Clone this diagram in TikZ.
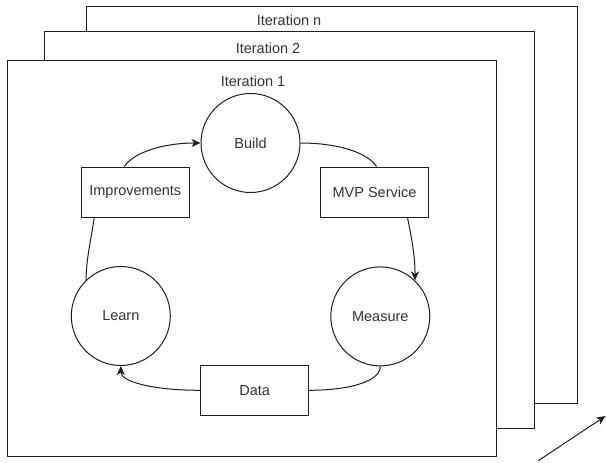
\documentclass[tikz,border=0pt]{standalone}
\usepackage{fontspec}
\setmainfont{Liberation Sans}
\usetikzlibrary{arrows.meta,calc}
\definecolor{ink}{RGB}{30,30,30}
\definecolor{txt}{RGB}{51,51,51}

\begin{document}
\begin{tikzpicture}[x=1pt,y=-1pt,
  every node/.style={font=\fontsize{14.5}{17}\selectfont, text=txt},
  frame/.style={draw=ink, fill=white, line width=1pt, rectangle, inner sep=0pt},
  phase/.style={draw=ink, fill=white, line width=1pt, circle, minimum size=99pt, inner sep=0pt},
  artifact/.style={draw=ink, fill=white, line width=1pt, rectangle, minimum width=108pt, minimum height=50pt, inner sep=0pt},
  flow/.style={draw=ink, line width=1pt},
  flowarrow/.style={flow, -{Stealth[length=9pt,width=8pt,inset=2.5pt]}}
]
\useasboundingbox (0,0) rectangle (606,463);

% stacked iteration frames, back to front
\node[frame, minimum width=491pt, minimum height=397pt] (itn) at (331.5,204.5) {};
\node (itnlabel) at (289,20) {Iteration n};
\node[frame, minimum width=490pt, minimum height=397pt] (ittwo) at (289,229.7) {};
\node (ittwolabel) at (268,48) {Iteration 2};
\node[frame, minimum width=489pt, minimum height=396pt] (itone) at (252,258) {};
\node (itonelabel) at (253,81) {Iteration 1};

% build-measure-learn cycle
\node[phase] (build) at (250.5,143) {Build};
\node[phase] (measure) at (380.3,316.4) {Measure};
\node[phase] (learn) at (120.8,316) {Learn};

\node[artifact] (impr) at (135.3,192) {Improvements};
\node[artifact] (mvp) at (374.5,192) {MVP Service};
\node[artifact] (data) at (254.7,390.3) {Data};

% connectors
\draw[flowarrow] ($(impr.north)+(-11,0)$) .. controls +(10,-15) and +(-35,0) .. (build.west);
\draw[flow] (build.east) .. controls +(35,0) and +(-10,-15) .. ($(mvp.north)+(2,0)$);
\draw[flowarrow] ($(mvp.south)+(33,0)$) .. controls +(4,20) and +(0,-25) .. (measure.46);
\draw[flow] (measure.south) .. controls +(0,15) and +(40,0) .. (data.east);
\draw[flowarrow] (data.west) .. controls +(-50,0) and +(0,15) .. (learn.south);
\draw[flow] (learn.134) .. controls +(0,-20) and +(-3,20) .. ($(impr.south)+(-41,0)$);

% next-iteration arrow
\coordinate (nextfrom) at (538.3,460.7);
\coordinate (nextto) at (605.5,416);
\draw[flowarrow] (nextfrom) -- (nextto);
\end{tikzpicture}
\end{document}
